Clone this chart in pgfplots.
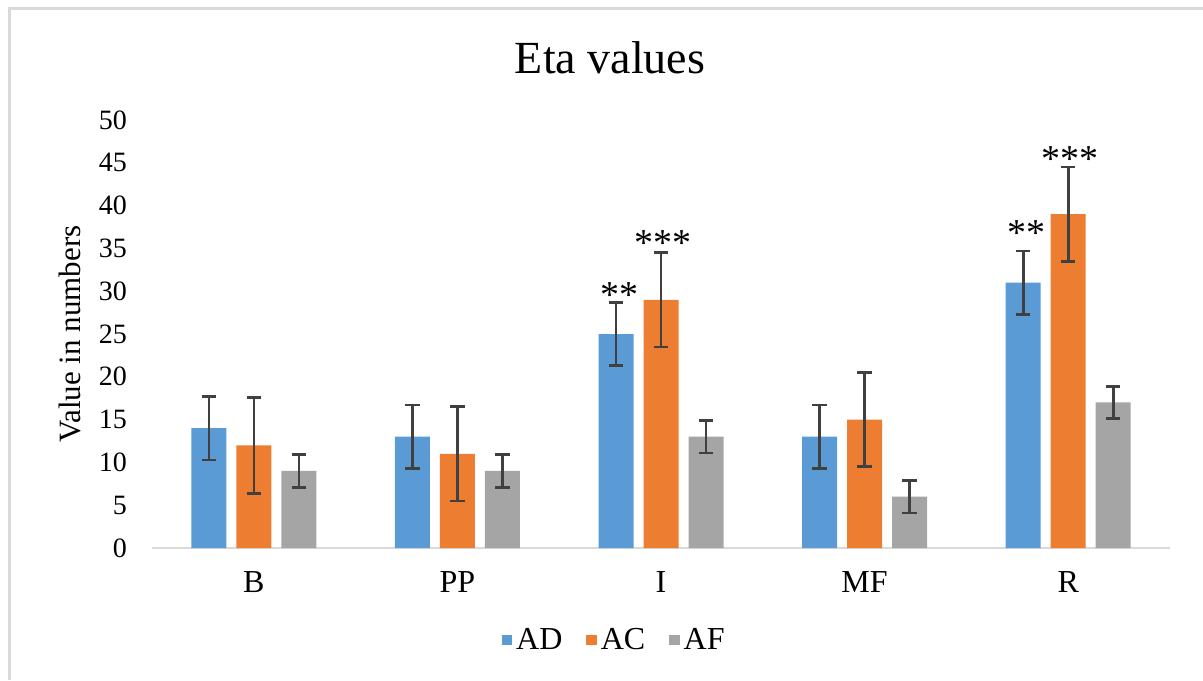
\documentclass[border=0pt]{standalone}
\usepackage{fontspec}
\setmainfont{Liberation Serif}
\usepackage{pgfplots}
\pgfplotsset{compat=1.18}

\definecolor{cAD}{HTML}{5B9BD5}
\definecolor{cAC}{HTML}{ED7D31}
\definecolor{cAF}{HTML}{A5A5A5}
\definecolor{errc}{HTML}{404040}
\definecolor{axc}{HTML}{D9D9D9}

\begin{document}
\begin{tikzpicture}
% frame of the chart area (1px = 0.5pt)
\draw[line width=1.5pt, color=black!15] (4.5pt,0pt) -- (4.5pt,335.5pt) -- (602pt,335.5pt);
\begin{axis}[
  at={(76pt,66pt)}, anchor=south west,
  scale only axis, width=509pt, height=214pt,
  ybar=5pt, bar width=17.5pt,
  xmin=-0.5, xmax=4.5, ymin=0, ymax=50,
  xtick={0,1,2,3,4}, xticklabels={B,PP,I,MF,R},
  ytick={0,5,...,50},
  major tick length=0pt,
  axis x line*=bottom, axis y line*=left,
  x axis line style={draw=axc, line width=1pt},
  y axis line style={draw=none},
  /pgf/number format/assume math mode=true,
  yticklabel style={font=\fontsize{14}{16}\selectfont, xshift=-9pt},
  xticklabel style={font=\fontsize{16}{18}\selectfont, yshift=-8pt},
  title={Eta values},
  title style={font=\fontsize{23}{27}\selectfont, at={(0.45,1.117)}, anchor=center},
  ylabel={Value in numbers},
  ylabel style={font=\fontsize{15.5}{18}\selectfont, at={(-0.081,0.5)}, anchor=center},
  legend columns=3,
  legend style={draw=none, fill=none, at={(0.455,-0.215)}, anchor=center,
    font=\fontsize{16}{18}\selectfont, /tikz/every even column/.append style={column sep=10pt}},
  legend image code/.code={\fill[#1] (0pt,-2.6pt) rectangle (5.2pt,2.6pt);},
  error bars/error bar style={draw=errc, line width=1.3pt},
  error bars/error mark options={draw=errc, line width=1.3pt, mark size=3.6pt, rotate=90},
]
\addplot[fill=cAD, draw=none, error bars/.cd, y dir=both, y explicit]
  coordinates {(0,14) +- (0,3.7) (1,13) +- (0,3.7) (2,25) +- (0,3.7) (3,13) +- (0,3.7) (4,31) +- (0,3.7)};
\addlegendentry{AD}
\addplot[fill=cAC, draw=none, error bars/.cd, y dir=both, y explicit]
  coordinates {(0,12) +- (0,5.6) (1,11) +- (0,5.5) (2,29) +- (0,5.5) (3,15) +- (0,5.5) (4,39) +- (0,5.5)};
\addlegendentry{AC}
\addplot[fill=cAF, draw=none, error bars/.cd, y dir=both, y explicit]
  coordinates {(0,9) +- (0,1.9) (1,9) +- (0,1.9) (2,13) +- (0,1.9) (3,6) +- (0,1.9) (4,17) +- (0,1.9)};
\addlegendentry{AF}
% significance marks
\tikzset{stars/.style={font=\fontsize{19}{21}\selectfont, inner sep=0pt}}
\node[stars] at (axis cs:2,29.6) [xshift=-21pt] {**};
\node[stars] at (axis cs:2,35.6) [xshift=1pt] {***};
\node[stars] at (axis cs:4,36.8) [xshift=-21pt] {**};
\node[stars] at (axis cs:4,45.4) [xshift=1pt] {***};
\end{axis}
\pgfresetboundingbox
\useasboundingbox (0pt,0pt) rectangle (601.5pt,340pt);
\end{tikzpicture}
\end{document}
